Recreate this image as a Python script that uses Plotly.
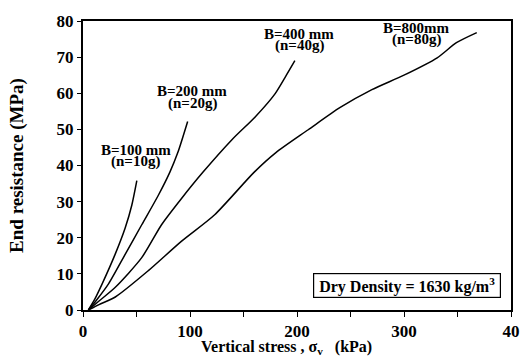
import plotly.graph_objects as go

# ---- data ----
b100_x = [5, 11, 18, 30, 39.4, 45.6, 50.3]
b100_y = [0, 3, 7.3, 15.4, 22.7, 29, 35.8]

b200_x = [5, 12, 24, 39.4, 54.9, 70.3, 81.1, 88.5, 97.8]
b200_y = [0, 2.5, 7.3, 15.4, 23.6, 31.7, 38.1, 43.5, 52.2]

b400_x = [5, 15, 30.2, 54.9, 73.4, 91.9, 112, 139.4, 161.1, 179.6, 188.9, 198]
b400_y = [0, 2.5, 6.3, 14.5, 23.6, 30.8, 38.1, 47.2, 53.5, 59.9, 64.4, 69]

b800_x = [5, 15, 30.2, 61.1, 91.9, 122.8, 159.8, 180, 210.5, 240, 270, 300, 331, 349, 368]
b800_y = [0, 1.5, 3.6, 10.9, 19, 26.3, 38.1, 43.5, 49.9, 56, 61, 65, 69.8, 74, 76.8]

x_tickvals = [0, 50, 100, 150, 200, 250, 300, 350, 400]
x_ticktext = ["0", "", "100", "", "200", "", "300", "", "40"]
y_tickvals = [0, 10, 20, 30, 40, 50, 60, 70, 80]

labels = [
    ("B=100 mm", "(n=10g)", 49.5, 44.4),
    ("B=200 mm", "(n=20g)", 102, 60.5),
    ("B=400 mm", "(n=40g)", 202, 76.5),
    ("B=800mm", "(n=80g)", 311.5, 78.2),
]

FONT = "Liberation Serif, Times New Roman, Times, serif"

fig = go.Figure()
for xs, ys in [(b100_x, b100_y), (b200_x, b200_y), (b400_x, b400_y), (b800_x, b800_y)]:
    fig.add_trace(go.Scatter(x=xs, y=ys, mode="lines",
                             line=dict(color="black", width=1.5, shape="spline", smoothing=0.7),
                             showlegend=False, hoverinfo="skip"))

annos = []
for l1, l2, x, y in labels:
    annos.append(dict(x=x, y=y, xref="x", yref="y", text="<b>%s</b>" % l1, showarrow=False,
                      font=dict(family=FONT, size=15, color="black"),
                      yanchor="middle"))
    annos.append(dict(x=x, y=y - 3.3, xref="x", yref="y", text="<b>%s</b>" % l2, showarrow=False,
                      font=dict(family=FONT, size=15, color="black"),
                      yanchor="middle"))

annos.append(dict(x=303, y=6.8, xref="x", yref="y",
                  text="<b>Dry Density = 1630 kg/m<sup>3</sup></b>", showarrow=False,
                  font=dict(family=FONT, size=16, color="black"),
                  bordercolor="black", borderwidth=1.2, borderpad=1, bgcolor="white",
                  width=184))

annos.append(dict(x=(288 - 83) / (515 - 83), y=-0.13, xref="paper", yref="paper",
                  text="<b>Vertical stress , σ<sub>v</sub>   (kPa)</b>", showarrow=False,
                  font=dict(family=FONT, size=16, color="black"),
                  yanchor="middle"))

fig.update_layout(
    width=532, height=360,
    margin=dict(l=83, r=17, t=16, b=50),
    paper_bgcolor="white", plot_bgcolor="white",
    font=dict(family=FONT, color="black"),
    annotations=annos,
    xaxis=dict(range=[0, 400], tickvals=x_tickvals,
               ticktext=["<b>%s</b>" % t if t else "" for t in x_ticktext],
               ticks="outside", ticklen=5, tickwidth=1.2, tickcolor="black",
               showline=True, linecolor="black", linewidth=2, mirror=True,
               showgrid=False, zeroline=False,
               tickfont=dict(family=FONT, size=17, color="black")),
    yaxis=dict(range=[0, 80], tickvals=y_tickvals,
               ticktext=["<b>%d</b>" % v for v in y_tickvals],
               ticks="outside", ticklen=4, tickwidth=1.2, tickcolor="black",
               showline=True, linecolor="black", linewidth=2, mirror=True,
               showgrid=False, zeroline=False,
               tickfont=dict(family=FONT, size=17, color="black"),
               title=dict(text="<b>End resistance (MPa)</b>", standoff=28,
                          font=dict(family=FONT, size=19, color="black"))),
)

fig.write_html("out.html")
